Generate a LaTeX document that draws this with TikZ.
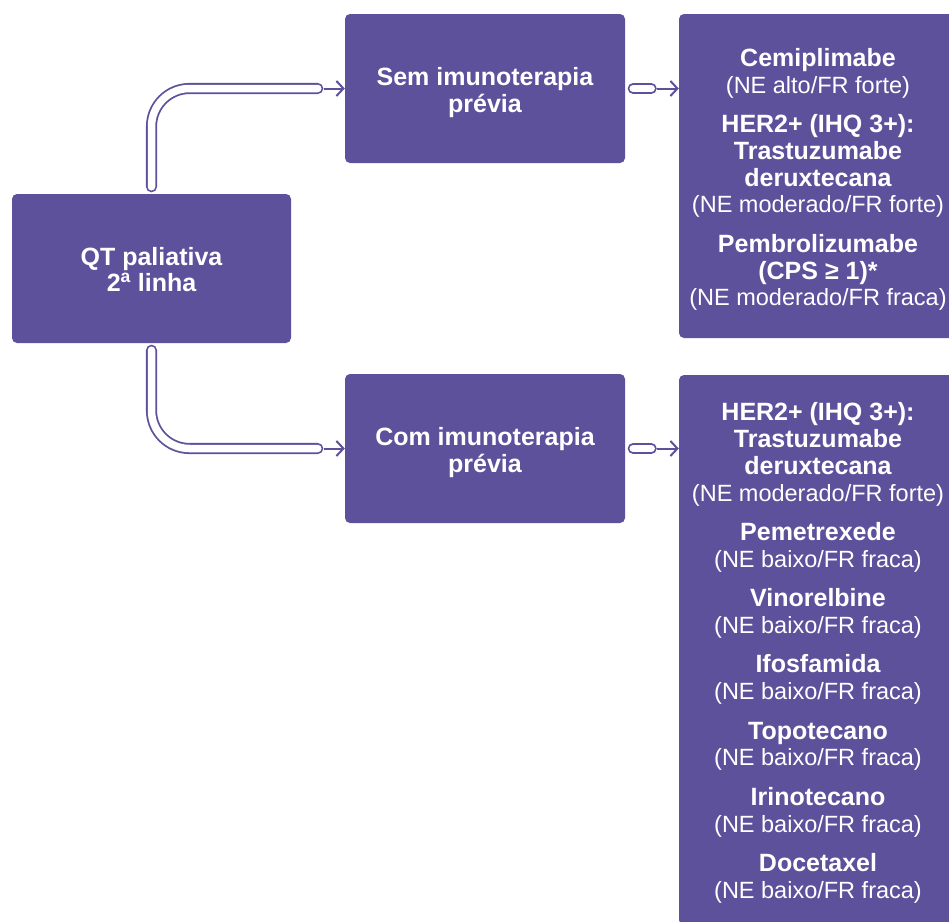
\documentclass[tikz,border=0pt]{standalone}
\usepackage{fontspec}
\setmainfont{Liberation Sans}
\usetikzlibrary{arrows.meta}
\definecolor{roxo}{RGB}{94,81,156}
\newcommand{\negr}[1]{{\fontsize{25}{26.7}\selectfont\bfseries #1}}

\begin{document}
\begin{tikzpicture}[x=1pt, y=-1pt,
    caixa/.style={fill=roxo, rounded corners=5pt, inner sep=0pt},
    texto/.style={text=white, align=center, inner sep=0pt,
                  font=\fontsize{23.5}{26.7}\selectfont},
    tubo/.style={draw=roxo, double=white, line width=1.8pt, double distance=7.5pt,
                 line cap=round, rounded corners=38pt},
    seta/.style={draw=roxo, line width=2pt,
                 -{Straight Barb[length=7pt, width=15pt]}}]

  \path[use as bounding box] (0,0) rectangle (949,921);

  % ── caixas ──
  \node[caixa, minimum width=279pt, minimum height=149pt] (qt) at (151.5,268.5) {};
  \node[caixa, minimum width=280pt, minimum height=149pt] (sem) at (485,88.5) {};
  \node[caixa, minimum width=280pt, minimum height=149pt] (com) at (485,448.5) {};
  \node[caixa, minimum width=278pt, minimum height=324pt] (op1) at (818,176) {};
  \node[caixa, minimum width=278pt, minimum height=550pt] (op2) at (818,650) {};

  % ── textos ──
  \node[texto] (qttxt) at ([yshift=-1pt]qt.center)
        {\negr{QT paliativa}\\\negr{2\textsuperscript{a} linha}};
  \node[texto] (semtxt) at ([yshift=-4pt]sem.center)
        {\negr{Sem imunoterapia}\\\negr{prévia}};
  \node[texto] (comtxt) at ([yshift=-4pt]com.center)
        {\negr{Com imunoterapia}\\\negr{prévia}};
  \node[texto] (op1txt) at ([yshift=-3.5pt]op1.center)
        {\negr{Cemiplimabe}\\(NE alto/FR forte)\\[12.8pt]
         \negr{HER2+ (IHQ 3+):}\\\negr{Trastuzumabe}\\\negr{deruxtecana}\\
         (NE moderado/FR forte)\\[12.8pt]
         \negr{Pembrolizumabe}\\\negr{(CPS ≥ 1)*}\\(NE moderado/FR fraca)};
  \node[texto] (op2txt) at ([yshift=-3pt]op2.center)
        {\negr{HER2+ (IHQ 3+):}\\\negr{Trastuzumabe}\\\negr{deruxtecana}\\
         (NE moderado/FR forte)\\[12.8pt]
         \negr{Pemetrexede}\\(NE baixo/FR fraca)\\[12.8pt]
         \negr{Vinorelbine}\\(NE baixo/FR fraca)\\[12.8pt]
         \negr{Ifosfamida}\\(NE baixo/FR fraca)\\[12.8pt]
         \negr{Topotecano}\\(NE baixo/FR fraca)\\[12.8pt]
         \negr{Irinotecano}\\(NE baixo/FR fraca)\\[12.8pt]
         \negr{Docetaxel}\\(NE baixo/FR fraca)};

  % ── tubos e setas ──
  \draw[tubo] ([yshift=7pt]qt.north) |- ([xshift=-27pt]sem.west);
  \draw[seta] ([xshift=-21pt]sem.west) -- (sem.west);
  \draw[tubo] ([yshift=-7pt]qt.south) |- ([xshift=-27pt]com.west);
  \draw[seta] ([xshift=-21pt]com.west) -- (com.west);

  \draw[tubo] ([xshift=8pt]sem.east) -- ([xshift=26pt]sem.east);
  \draw[seta] ([xshift=32pt]sem.east) -- (sem.east -| op1.west);
  \draw[tubo] ([xshift=8pt]com.east) -- ([xshift=26pt]com.east);
  \draw[seta] ([xshift=32pt]com.east) -- (com.east -| op2.west);
\end{tikzpicture}
\end{document}
